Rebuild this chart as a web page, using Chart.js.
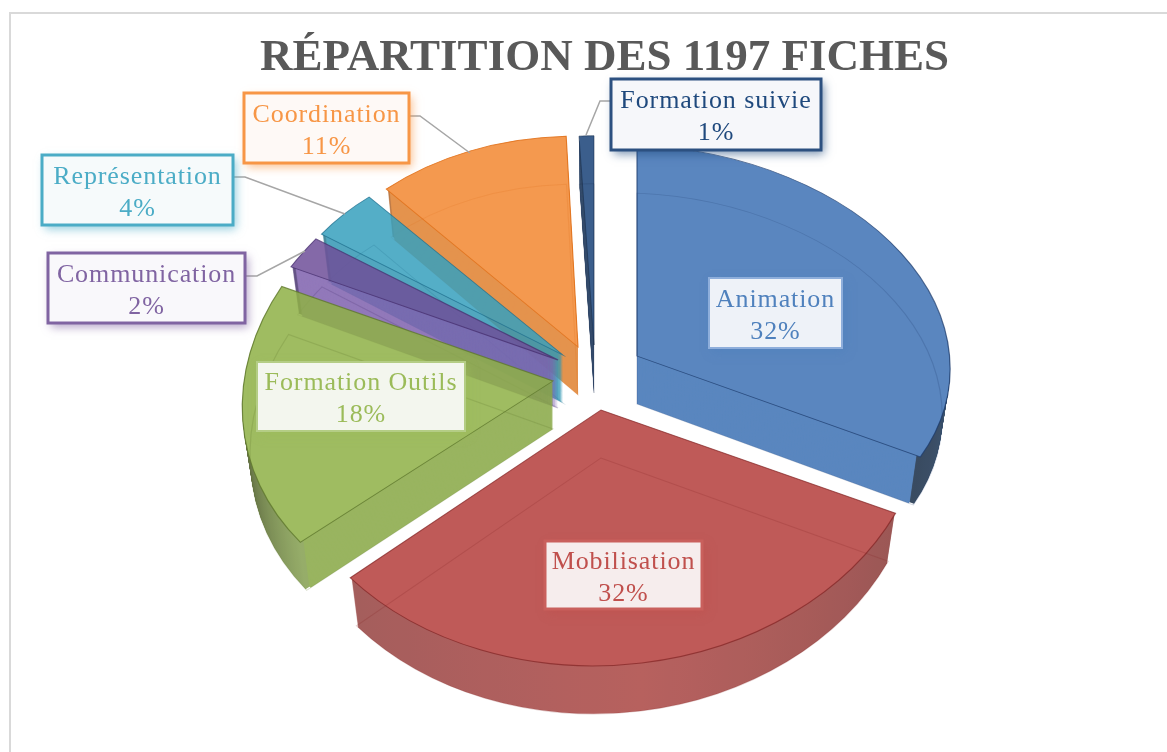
<!DOCTYPE html>
<html lang="fr">
<head>
<meta charset="utf-8">
<script src="https://cdn.jsdelivr.net/npm/chart.js@4"></script>
<style>html,body{margin:0;padding:0;background:#fff}canvas{display:block}</style>
</head>
<body>
<canvas id="c" width="1167" height="752"></canvas>
<script>
const titleText = "RÉPARTITION DES 1197 FICHES";
const categories = ["Animation","Mobilisation","Formation Outils","Communication","Représentation","Coordination","Formation suivie"];
const values = [32,32,18,2,4,11,1];

// Styling of each slice
const faceColors = ["#3e72b4","#b53e3b","#8fb146","#6f5099","#37a0be","#f38831","#1a4378"];
const wallColors = ["#3e72b4","#b03c39","#88a845","#7f62ae","#3498b4","#e0812f","#142f55"];
const rimStart   = ["#2f5a90","#8a3a38","#85a050","#4a3570","#28788c","#b0642a","#14283f"];
const rimMid     = ["#25476f","#ab4643","#3d4a1c","#4a3570","#28788c","#b0642a","#14283f"];
const rimEnd     = ["#172c46","#954240","#2e3816","#4a3570","#28788c","#b0642a","#14283f"];
const lineColors = ["rgba(30,60,110,.75)","rgba(130,35,35,.7)","rgba(95,120,45,.8)","rgba(70,45,110,.75)","rgba(30,110,140,.75)","rgba(225,115,30,.9)","rgba(20,40,70,.6)"];
// 3D projection of each exploded slice: position of the tip, and affine squash
const tipX   = [637,601,553,558,563,578,594];
const tipY   = [356,410,381,360,355,347,345];
const scaleX = [1.01,1.05,1.0,1.03,0.937,0.925,0.77];
const shearX = [0,0,-0.07,-0.165,-0.022,-0.02,0];
const shearY = [0.04,-0.02,-0.03,-0.042,0.044,0.02,0];
const scaleY = [0.68,0.825,0.78,0.795,0.658,0.68,0.675];
const depth = 48;
const depthShrink = 0.025;
const drawOrder = [6,5,4,3,2,0,1];

// Data label boxes: x, y, w, h
const boxX = [709,545,257,48,42,244,611];
const boxY = [278,541,362,253,155,93,79];
const boxW = [133,157,208,197,191,165,210];
const boxH = [70,68,69,70,70,70,71];
const boxFill = ["#eef2f8","#f6eded","#f3f6ee","#f9f8fb","#f6fafb","#fef9f6","#f6f7fa"];
const boxBorder = ["#8eaedb","#c9605d","#b4cd85","#8064a2","#4bacc6","#f79646","#2c5080"];
const boxBorderW = [2,3,2,3,3,3,3];
const textColors = ["#4f81bd","#c0504d","#9bbb59","#8064a2","#4bacc6","#f79646","#1f497d"];
const leaderLines = [null,null,null,
  [[245,276],[257,276],[305,251]],
  [[233,177],[245,177],[345,214]],
  [[409,116],[420,116],[470,153]],
  [[611,101],[600,101],[586,135]]];

const fullW = 1167, fullH = 752;

function clone(arc, over){
  const el = Object.create(arc);
  el.options = Object.assign({}, arc.options, over);
  return el;
}
function place(ctx, arc, i, drop){
  const shrink = 1 - depthShrink*drop/depth;
  ctx.setTransform(1,0,0,1,0,0);
  ctx.translate(tipX[i], tipY[i] + drop);
  ctx.transform(scaleX[i]*shrink, shearY[i], shearX[i]*shrink, scaleY[i], 0, 0);
  ctx.translate(-arc.x, -arc.y);
}
const pie3d = {
  id:"pie3d",
  beforeDraw(chart){
    const ctx = chart.ctx;
    ctx.save();
    ctx.fillStyle="#ffffff"; ctx.fillRect(0,0,fullW,fullH);
    ctx.strokeStyle="#d9d9d9"; ctx.lineWidth=2;
    ctx.beginPath();
    ctx.moveTo(10,fullH); ctx.lineTo(10,13); ctx.lineTo(fullW,13);
    ctx.stroke();
    ctx.restore();
  },
  beforeDatasetsDraw(chart){
    const ctx = chart.ctx;
    const arcs = chart.getDatasetMeta(0).data;
    const total = values.reduce((a,b)=>a+b,0);
    const starts = []; let acc = 0;
    values.forEach(v=>{starts.push(acc/total); acc+=v;});
    drawOrder.forEach(i=>{
      const arc = arcs[i];
      const off = document.createElement("canvas");
      off.width = fullW; off.height = fullH;
      const o = off.getContext("2d");
      const f0 = starts[i], f1 = f0 + values[i]/total;
      const grad = o.createConicGradient(-Math.PI/2, arc.x, arc.y);
      if (f0>0) grad.addColorStop(0, rimEnd[i]);
      grad.addColorStop(Math.max(f0,0), rimStart[i]);
      grad.addColorStop((f0+f1)/2, rimMid[i]);
      grad.addColorStop(Math.min(f1,1), rimEnd[i]);
      if (f1<1) grad.addColorStop(1, rimEnd[i]);
      const rim = clone(arc,{backgroundColor:grad,borderWidth:0});
      const inset = Math.min(0.006, arc.circumference*0.1);
      rim.startAngle = arc.startAngle + inset;
      rim.circumference = arc.circumference - 2*inset;
      rim.endAngle = arc.endAngle - inset;
      rim.innerRadius = arc.outerRadius - 12;
      const wall = clone(arc,{backgroundColor:wallColors[i],borderWidth:0});
      wall.outerRadius = arc.outerRadius - 5;
      for(let k=depth;k>=1;k--){
        place(o,arc,i,k); rim.draw(o);
        place(o,arc,i,k); wall.draw(o);
      }
      place(o,arc,i,0);
      clone(arc,{backgroundColor:faceColors[i],borderWidth:0}).draw(o);
      o.setTransform(1,0,0,1,0,0);
      ctx.save();
      ctx.globalAlpha = 0.85;
      ctx.drawImage(off,0,0);
      ctx.globalAlpha = 1;
      // see-through bottom outline, then top outline
      place(ctx,arc,i,depth);
      clone(arc,{backgroundColor:"rgba(0,0,0,0)",borderColor:lineColors[i].replace(/[\d.]+\)$/,"0.22)"),borderWidth:1.2,borderJoinStyle:"miter"}).draw(ctx);
      place(ctx,arc,i,0);
      clone(arc,{backgroundColor:"rgba(0,0,0,0)",borderColor:lineColors[i],borderWidth:1.2,borderJoinStyle:"miter"}).draw(ctx);
      ctx.restore();
    });
    return false;
  },
  afterDraw(chart){
    const ctx = chart.ctx;
    ctx.save();
    ctx.setTransform(1,0,0,1,0,0);
    leaderLines.forEach(pts=>{
      if(!pts) return;
      ctx.beginPath();
      pts.forEach((p,j)=> j? ctx.lineTo(p[0],p[1]) : ctx.moveTo(p[0],p[1]));
      ctx.strokeStyle="#a6a6a6"; ctx.lineWidth=1.5; ctx.stroke();
    });
    categories.forEach((name,i)=>{
      ctx.save();
      ctx.shadowColor = textColors[i]+"99";
      ctx.shadowBlur = 9; ctx.shadowOffsetX = 3; ctx.shadowOffsetY = 4;
      ctx.fillStyle = boxFill[i];
      ctx.fillRect(boxX[i],boxY[i],boxW[i],boxH[i]);
      ctx.restore();
      ctx.strokeStyle = boxBorder[i]; ctx.lineWidth = boxBorderW[i];
      ctx.strokeRect(boxX[i],boxY[i],boxW[i],boxH[i]);
      ctx.fillStyle = textColors[i];
      ctx.font = '26px "Liberation Serif"';
      ctx.letterSpacing = "0.9px";
      ctx.textAlign="center"; ctx.textBaseline="middle";
      const cx = boxX[i]+boxW[i]/2, cy = boxY[i]+boxH[i]/2;
      ctx.fillText(name,cx,cy-13);
      ctx.fillText(values[i]+"%",cx,cy+19);
    });
    ctx.restore();
  }
};

new Chart(document.getElementById("c"),{
  type:"pie",
  data:{labels:categories,datasets:[{data:values,backgroundColor:faceColors,borderWidth:0,radius:310}]},
  options:{
    responsive:false,animation:false,
    rotation:0,
    layout:{padding:{left:42,top:31}},
    plugins:{
      legend:{display:false},
      tooltip:{enabled:false},
      title:{display:true,text:titleText,color:"#595959",
        font:{family:'"Liberation Serif"',size:45,weight:"bold"},padding:{top:0,bottom:0}}
    }
  },
  plugins:[pie3d]
});
</script>
</body>
</html>
